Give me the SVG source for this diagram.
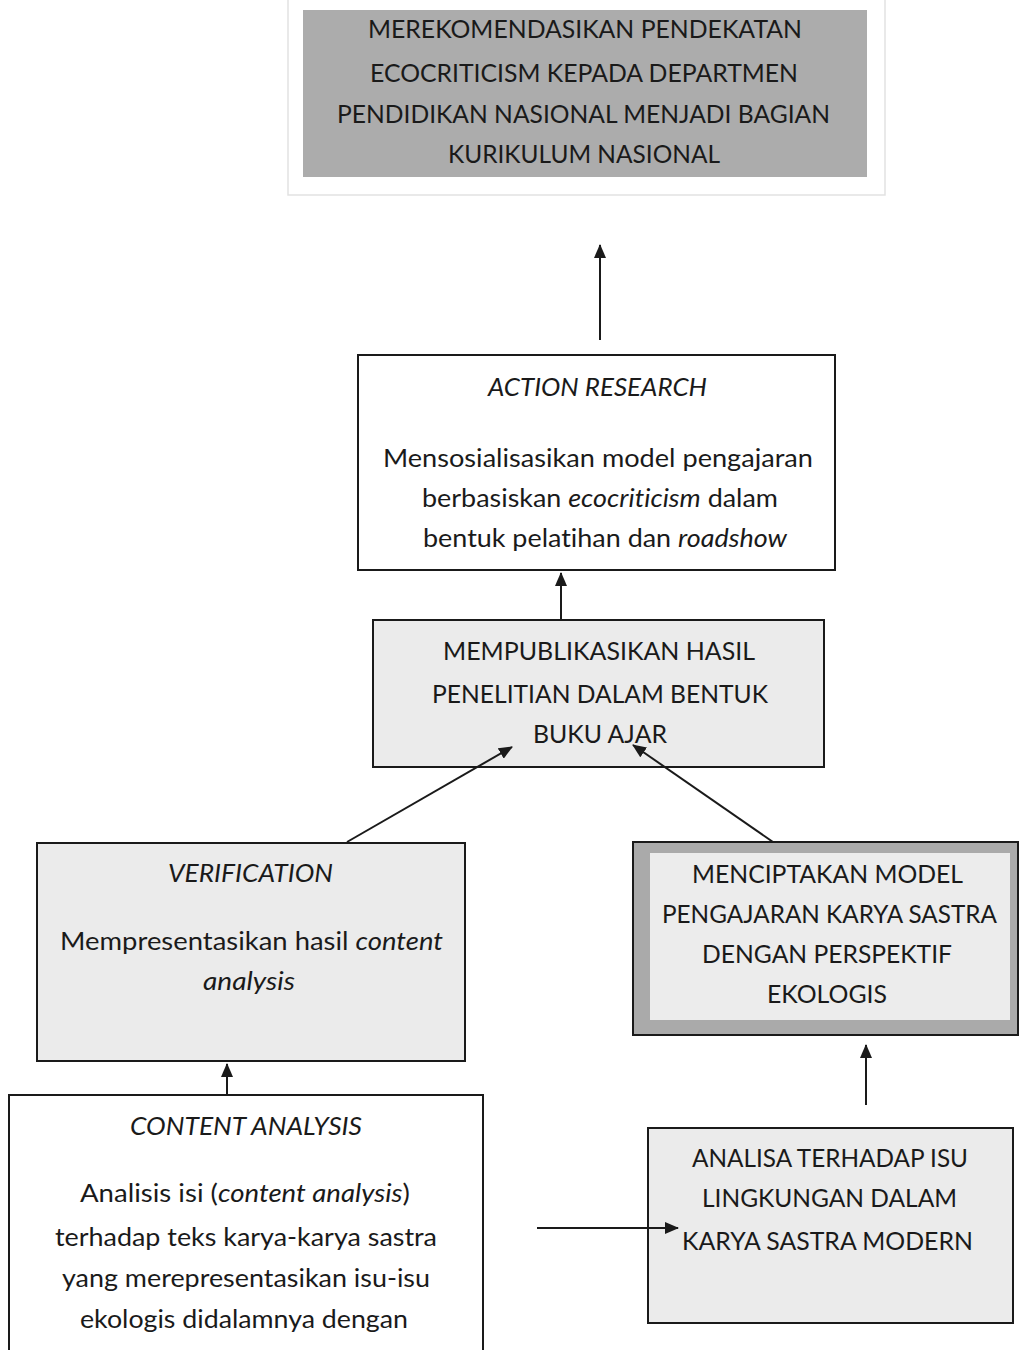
<svg xmlns="http://www.w3.org/2000/svg" width="1019" height="1350" viewBox="0 0 1019 1350">
<defs>
<marker id="ah" viewBox="0 0 14 12" refX="13" refY="6" markerWidth="14" markerHeight="12" markerUnits="userSpaceOnUse" orient="auto">
<path d="M0,0 L14,6 L0,12 Z" fill="#1a1a1a"/>
</marker>
</defs>
<style>
text{font-family:Lato,"Open Sans","Liberation Sans",sans-serif;font-size:25px;fill:#1a1a1a;text-anchor:middle;font-variant-ligatures:none}
.i{font-style:italic}
.box{stroke:#1a1a1a;stroke-width:2}
.white{fill:#ffffff}
.light{fill:#ebebeb}
.edge{stroke:#1a1a1a;stroke-width:2;fill:none;marker-end:url(#ah)}
</style>
<rect width="1019" height="1350" fill="#ffffff"/>

<g id="node-rekomendasi">
<rect x="288" y="-2" width="597" height="197" fill="none" stroke="#e2e2e2" stroke-width="1.5"/>
<rect x="303" y="10" width="564" height="167" fill="#acacac"/>
<text x="585" y="38" textLength="434" lengthAdjust="spacingAndGlyphs">MEREKOMENDASIKAN PENDEKATAN</text>
<text x="584" y="82" textLength="428" lengthAdjust="spacingAndGlyphs">ECOCRITICISM KEPADA DEPARTMEN</text>
<text x="583.5" y="123" textLength="493" lengthAdjust="spacingAndGlyphs">PENDIDIKAN NASIONAL MENJADI BAGIAN</text>
<text x="584" y="163" textLength="272" lengthAdjust="spacingAndGlyphs">KURIKULUM NASIONAL</text>
</g>

<g id="node-action-research">
<rect class="box white" x="358" y="355" width="477" height="215"/>
<text class="i" x="597.5" y="396" textLength="219" lengthAdjust="spacingAndGlyphs">ACTION RESEARCH</text>
<text x="598" y="467" textLength="430" lengthAdjust="spacingAndGlyphs">Mensosialisasikan model pengajaran</text>
<text x="600" y="507" textLength="356" lengthAdjust="spacingAndGlyphs">berbasiskan <tspan class="i">ecocriticism</tspan> dalam</text>
<text x="605" y="547" textLength="364" lengthAdjust="spacingAndGlyphs">bentuk pelatihan dan <tspan class="i">roadshow</tspan></text>
</g>

<g id="node-publikasi">
<rect class="box light" x="373" y="620" width="451" height="147"/>
<text x="599" y="660" textLength="312" lengthAdjust="spacingAndGlyphs">MEMPUBLIKASIKAN HASIL</text>
<text x="600" y="703" textLength="336" lengthAdjust="spacingAndGlyphs">PENELITIAN DALAM BENTUK</text>
<text x="600" y="743" textLength="134" lengthAdjust="spacingAndGlyphs">BUKU AJAR</text>
</g>

<g id="node-verification">
<rect class="box light" x="37" y="843" width="428" height="218"/>
<text class="i" x="250.5" y="882" textLength="165" lengthAdjust="spacingAndGlyphs">VERIFICATION</text>
<text x="251.5" y="950" textLength="383" lengthAdjust="spacingAndGlyphs">Mempresentasikan hasil <tspan class="i">content</tspan></text>
<text class="i" x="249" y="990" textLength="92" lengthAdjust="spacingAndGlyphs">analysis</text>
</g>

<g id="node-menciptakan">
<rect x="633" y="842" width="385" height="193" fill="#aaaaaa" stroke="#1a1a1a" stroke-width="2"/>
<rect x="650" y="853" width="360" height="167" fill="#ececec"/>
<text x="827.5" y="883" textLength="271" lengthAdjust="spacingAndGlyphs">MENCIPTAKAN MODEL</text>
<text x="829.5" y="923" textLength="335" lengthAdjust="spacingAndGlyphs">PENGAJARAN KARYA SASTRA</text>
<text x="827" y="963" textLength="250" lengthAdjust="spacingAndGlyphs">DENGAN PERSPEKTIF</text>
<text x="827" y="1003" textLength="120" lengthAdjust="spacingAndGlyphs">EKOLOGIS</text>
</g>

<g id="node-content-analysis">
<rect class="box white" x="9" y="1095" width="474" height="270"/>
<text class="i" x="246" y="1135" textLength="232" lengthAdjust="spacingAndGlyphs">CONTENT ANALYSIS</text>
<text x="245" y="1202" textLength="330" lengthAdjust="spacingAndGlyphs">Analisis isi (<tspan class="i">content analysis</tspan>)</text>
<text x="246" y="1246" textLength="382" lengthAdjust="spacingAndGlyphs">terhadap teks karya-karya sastra</text>
<text x="246" y="1287" textLength="368" lengthAdjust="spacingAndGlyphs">yang merepresentasikan isu-isu</text>
<text x="244" y="1328" textLength="328" lengthAdjust="spacingAndGlyphs">ekologis didalamnya dengan</text>
</g>

<g id="node-analisa">
<rect class="box light" x="648" y="1128" width="365" height="195"/>
<text x="830" y="1167" textLength="276" lengthAdjust="spacingAndGlyphs">ANALISA TERHADAP ISU</text>
<text x="829.5" y="1207" textLength="255" lengthAdjust="spacingAndGlyphs">LINGKUNGAN DALAM</text>
<text x="827.5" y="1250" textLength="291" lengthAdjust="spacingAndGlyphs">KARYA SASTRA MODERN</text>
</g>

<g id="connectors">
<line class="edge" x1="600" y1="340" x2="600" y2="245"/>
<line class="edge" x1="561" y1="619" x2="561" y2="573"/>
<line class="edge" x1="347" y1="842" x2="512" y2="747"/>
<line class="edge" x1="773" y1="842" x2="633" y2="745"/>
<line class="edge" x1="227" y1="1095" x2="227" y2="1064"/>
<line class="edge" x1="866" y1="1105" x2="866" y2="1045"/>
<line class="edge" x1="537" y1="1228" x2="678" y2="1228"/>
</g>
</svg>
